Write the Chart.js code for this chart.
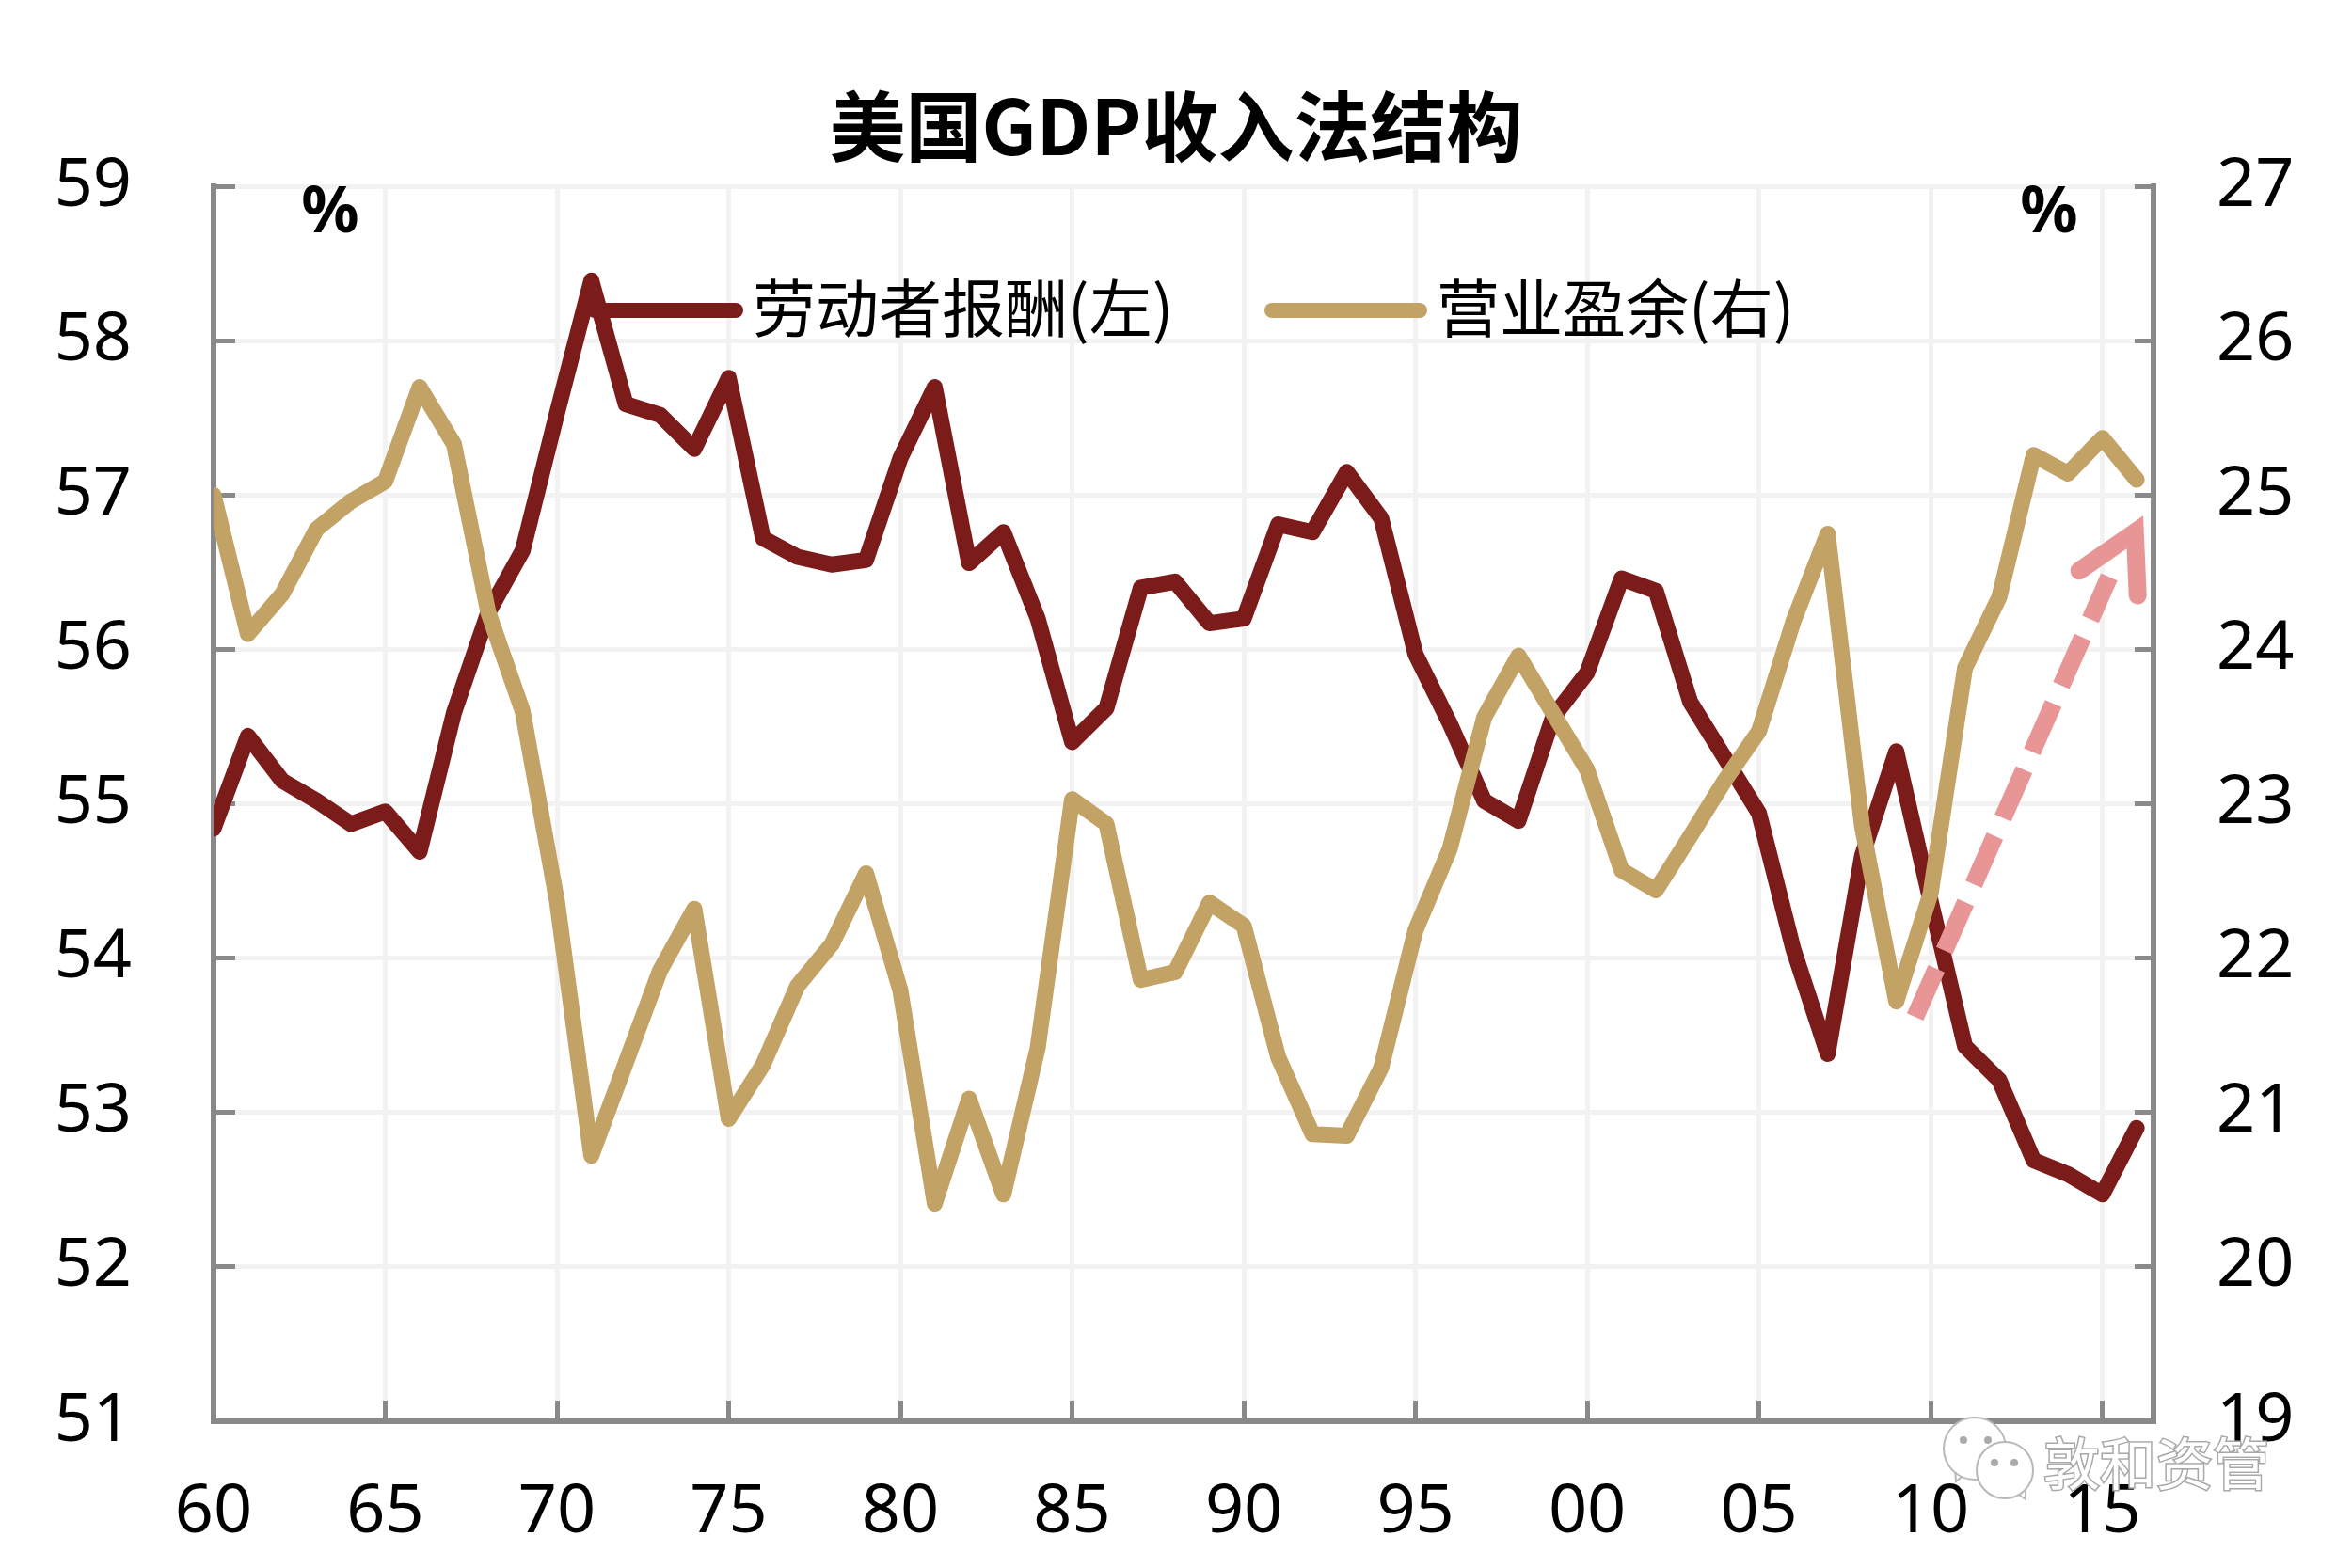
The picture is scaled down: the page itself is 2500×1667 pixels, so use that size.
<!DOCTYPE html>
<html>
<head>
<meta charset="utf-8">
<style>
html, body { margin: 0; padding: 0; background: #fff; }
#wrap { width: 2500px; height: 1667px; }
</style>
<script src="https://cdn.jsdelivr.net/npm/chart.js@4"></script>
</head>
<body>
<div id="wrap"><canvas id="chart"></canvas></div>
<script>
const years = [];
for (let y = 1960; y <= 2016; y++) years.push(y);

const compensation = [54.84, 55.44, 55.15, 55.02, 54.87, 54.95, 54.69, 55.59, 56.24, 56.64,
  57.53, 58.39, 57.59, 57.52, 57.30, 57.76, 56.72, 56.60, 56.55, 56.58,
  57.24, 57.70, 56.56, 56.76, 56.20, 55.40, 55.62, 56.40, 56.44, 56.17,
  56.20, 56.81, 56.76, 57.15, 56.85, 55.97, 55.52, 55.02, 54.89, 55.56,
  55.85, 56.46, 56.38, 55.66, 55.30, 54.94, 54.06, 53.38, 54.66, 55.34,
  54.37, 53.43, 53.21, 52.69, 52.60, 52.47, 52.90];

const surplus = [25.00, 24.10, 24.36, 24.78, 24.96, 25.09, 25.70, 25.33, 24.24, 23.60,
  22.37, 20.72, 21.32, 21.92, 22.32, 20.96, 21.31, 21.82, 22.09, 22.55,
  21.79, 20.41, 21.09, 20.47, 21.42, 23.03, 22.87, 21.86, 21.91, 22.36,
  22.21, 21.36, 20.86, 20.85, 21.29, 22.18, 22.71, 23.56, 23.96, 23.59,
  23.22, 22.57, 22.44, 22.79, 23.15, 23.47, 24.18, 24.75, 22.86, 21.72,
  22.42, 23.88, 24.34, 25.26, 25.14, 25.37, 25.10];

// hand drawn arrow in the picture, in axis units (year, left axis)
const arrowShaft = [[2009.55, 53.62], [2015.2, 56.47]];
const arrowHead = [[2014.33, 56.51], [2015.95, 56.76], [2016.03, 56.35]];

const leftTicks = [51, 52, 53, 54, 55, 56, 57, 58, 59];
const rightTicks = [19, 20, 21, 22, 23, 24, 25, 26, 27];

const toXY = (xs, ys) => xs.map((x, i) => ({ x: x, y: ys[i] }));
const pairs = list => list.map(p => ({ x: p[0], y: p[1] }));

const DARK = '#7b1c1a';
const TAN = '#c2a265';
const PINK = '#e89595';
const AXIS = '#898989';
const GRID = '#f2f2f2';
const CJK = '"Noto Sans CJK SC"';
const NUM = '"Noto Sans"';

// legend, % marks and watermark sit at fixed spots of the page
const extras = {
  id: 'extras',
  afterDatasetsDraw(chart) {
    const c = chart.ctx;
    c.save();
    c.lineCap = 'round';
    c.lineWidth = 16;
    c.strokeStyle = DARK;
    c.beginPath(); c.moveTo(632, 330); c.lineTo(782, 330); c.stroke();
    c.strokeStyle = TAN;
    c.beginPath(); c.moveTo(1352, 330); c.lineTo(1509, 330); c.stroke();

    c.fillStyle = '#000';
    c.textBaseline = 'middle';
    c.textAlign = 'left';
    c.font = '67px ' + CJK;
    c.fillText('劳动者报酬(左)', 800, 328);
    c.fillText('营业盈余(右)', 1527, 328);

    c.textAlign = 'center';
    c.font = 'bold 68px "Noto Sans"';
    c.fillText('%', 351, 228);
    c.fillText('%', 2178, 228);

    // watermark
    c.strokeStyle = '#b8b8b8';
    c.fillStyle = '#fff';
    c.lineWidth = 2;
    const bubble = (x, y, r, tx, ty) => {
      c.beginPath();
      c.moveTo(tx, ty);
      c.lineTo(x + (tx - x) * 0.6 - 9, y + (ty - y) * 0.6);
      c.lineTo(x + (tx - x) * 0.6 + 9, y + (ty - y) * 0.6);
      c.closePath();
      c.fill(); c.stroke();
      c.beginPath(); c.arc(x, y, r, 0, Math.PI * 2); c.fill(); c.stroke();
    };
    bubble(2099, 1540, 33, 2079, 1575);
    bubble(2131, 1563, 30, 2153, 1594);
    c.fillStyle = '#aaa';
    [[2087, 1531], [2113, 1531], [2120, 1555], [2141, 1555]].forEach(p => {
      c.beginPath(); c.arc(p[0], p[1], 4, 0, Math.PI * 2); c.fill();
    });
    c.textAlign = 'left';
    c.font = '60px ' + CJK;
    c.lineWidth = 3;
    c.strokeStyle = '#a8a8a8';
    c.strokeText('敦和资管', 2172, 1556);
    c.fillStyle = '#fff';
    c.fillText('敦和资管', 2172, 1556);
    c.restore();
  }
};

new Chart(document.getElementById('chart').getContext('2d'), {
  type: 'line',
  data: {
    datasets: [
      { label: 'arrow', data: pairs(arrowShaft), yAxisID: 'yL', borderColor: PINK, borderWidth: 19, borderDash: [56, 21], borderCapStyle: 'butt' },
      { label: 'arrowhead', data: pairs(arrowHead), yAxisID: 'yL', borderColor: PINK, borderWidth: 19, borderJoinStyle: 'miter' },
      { label: '营业盈余(右)', data: toXY(years, surplus), yAxisID: 'yR', borderColor: TAN, borderWidth: 17 },
      { label: '劳动者报酬(左)', data: toXY(years, compensation), yAxisID: 'yL', borderColor: DARK, borderWidth: 17 }
    ]
  },
  options: {
    responsive: true,
    maintainAspectRatio: false,
    animation: false,
    layout: { padding: 0 },
    elements: {
      point: { radius: 0 },
      line: { tension: 0, borderCapStyle: 'round', borderJoinStyle: 'round' }
    },
    plugins: {
      legend: { display: false },
      tooltip: { enabled: false },
      title: {
        display: true,
        text: '美国GDP收入法结构',
        color: '#000',
        font: { family: CJK, size: 81, weight: 'bold', lineHeight: 1.2 },
        padding: { top: 86, bottom: 15 }
      }
    },
    scales: {
      x: {
        type: 'linear',
        min: 1960,
        max: 2016.49,
        afterFit(s) { s.height = 156; },
        border: { color: AXIS, width: 6 },
        grid: { color: GRID, lineWidth: 5, tickColor: AXIS, tickWidth: 5, tickLength: -22 },
        ticks: {
          stepSize: 5,
          includeBounds: false,
          maxRotation: 0,
          autoSkip: false,
          padding: 76,
          color: '#000',
          font: { family: NUM, size: 72 },
          callback: v => String(v % 100).padStart(2, '0')
        }
      },
      yL: {
        position: 'left',
        min: 51,
        max: 59,
        afterFit(s) { s.width = 227; },
        afterBuildTicks(s) { s.ticks = leftTicks.map(v => ({ value: v })); },
        border: { color: AXIS, width: 6 },
        grid: { color: GRID, lineWidth: 5, tickColor: AXIS, tickWidth: 5, tickLength: -23 },
        ticks: { padding: 110, color: '#000', font: { family: NUM, size: 72 } }
      },
      yR: {
        position: 'right',
        min: 19,
        max: 27,
        afterFit(s) { s.width = 211; },
        afterBuildTicks(s) { s.ticks = rightTicks.map(v => ({ value: v })); },
        border: { color: AXIS, width: 6 },
        grid: { drawOnChartArea: false, tickColor: AXIS, tickWidth: 5, tickLength: -20 },
        ticks: { padding: 87, color: '#000', font: { family: NUM, size: 72 } }
      }
    }
  },
  plugins: [extras]
});
</script>
</body>
</html>
